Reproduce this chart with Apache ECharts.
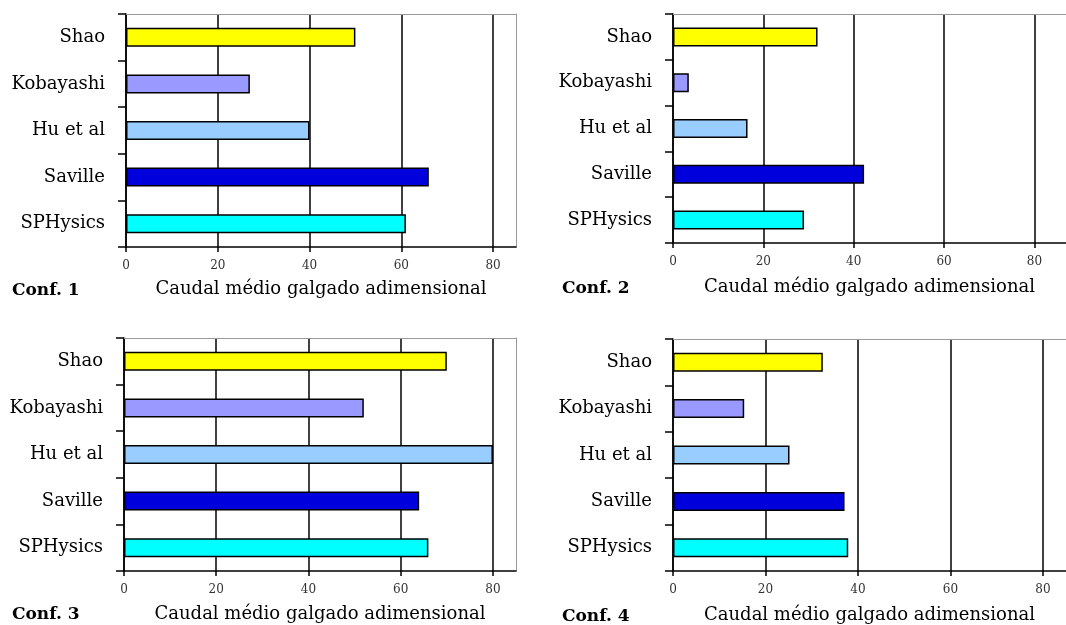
<!DOCTYPE html>
<html>
<head>
<meta charset="utf-8">
<script src="https://cdn.jsdelivr.net/npm/echarts@6/dist/echarts.min.js"></script>
<style>
html,body{margin:0;padding:0;background:#fff;}
#c{width:1066px;height:625px;}
</style>
</head>
<body>
<div id="c"></div>
<script>
// ---- data ----
const categories = ['Shao', 'Kobayashi', 'Hu et al', 'Saville', 'SPHysics'];
const conf1 = [50, 27, 40, 66, 61];
const conf2 = [32, 3.5, 16.5, 42.3, 29];
const conf3 = [70, 52, 80, 64, 66];
const conf4 = [32.4, 15.4, 25.2, 37.1, 37.9];
const xTicks = [0, 20, 40, 60, 80];
const panelTitles = ['Conf. 1', 'Conf. 2', 'Conf. 3', 'Conf. 4'];
const axisTitle = 'Caudal médio galgado adimensional';

// ---- style ----
const barColors = ['#FFFF00', '#9999FF', '#99CCFF', '#0000DD', '#00FFFF'];
const panelData = [conf1, conf2, conf3, conf4];
const grids = [
  {left: 126, top: 14, width: 390, height: 233},
  {left: 673, top: 14, width: 401, height: 229},
  {left: 124, top: 338, width: 392, height: 233},
  {left: 673, top: 339, width: 397, height: 233}
];
const xMax = [85, 87, 85, 85];
const showRightBorder = [true, false, true, false];
const nameGaps = [33, 35, 34, 35];
const titlePos = [[12, 282], [562, 280], [12, 606], [562, 608]];

const serif = '"DejaVu Serif", "Liberation Serif", serif';

const mainX = grids.map((g, i) => ({
  type: 'value',
  gridIndex: i,
  position: 'bottom',
  min: xTicks[0],
  max: xMax[i],
  interval: xTicks[1] - xTicks[0],
  axisLine: {show: true, lineStyle: {color: '#000', width: 1.5}},
  axisTick: {show: true, length: 5, customValues: xTicks, lineStyle: {color: '#000', width: 1.5}},
  axisLabel: {
    color: '#333', fontFamily: serif, fontSize: 12, margin: 13,
    customValues: xTicks,
    formatter: v => (xTicks.indexOf(v) >= 0 ? String(v) : '')
  },
  splitLine: {show: true, lineStyle: {color: '#111', width: 1.6}},
  name: axisTitle,
  nameLocation: 'middle',
  nameGap: nameGaps[i],
  nameTextStyle: {color: '#000', fontFamily: serif, fontSize: 18}
}));
// top frame lines
const topX = grids.map((g, i) => ({
  type: 'value',
  gridIndex: i,
  position: 'top',
  min: xTicks[0],
  max: xMax[i],
  axisLine: {show: true, onZero: false, lineStyle: {color: '#999', width: 1}},
  axisTick: {show: false},
  axisLabel: {show: false},
  splitLine: {show: false}
}));
const mainY = grids.map((g, i) => ({
  type: 'category',
  gridIndex: i,
  data: categories,
  inverse: true,
  position: 'left',
  axisLine: {show: true, lineStyle: {color: '#000', width: 1.5}},
  axisTick: {show: true, length: 8, lineStyle: {color: '#000', width: 1.5}},
  axisLabel: {color: '#000', fontFamily: serif, fontSize: 18, margin: 21, padding: [5, 0, 0, 0]},
  splitLine: {show: false}
}));
// right frame lines
const rightY = grids.map((g, i) => ({
  type: 'category',
  gridIndex: i,
  data: categories,
  inverse: true,
  position: 'right',
  show: showRightBorder[i],
  axisLine: {show: showRightBorder[i], onZero: false, lineStyle: {color: '#999', width: 1}},
  axisTick: {show: false},
  axisLabel: {show: false},
  splitLine: {show: false}
}));

const option = {
  animation: false,
  backgroundColor: '#fff',
  grid: grids.map(g => Object.assign({show: false}, g)),
  xAxis: mainX.concat(topX),
  yAxis: mainY.concat(rightY),
  graphic: panelTitles.map((t, i) => ({
    type: 'text',
    left: titlePos[i][0],
    top: titlePos[i][1],
    style: {text: t, font: 'bold 17px ' + serif, fill: '#000'}
  })),
  series: panelData.map((d, i) => ({
    type: 'bar',
    xAxisIndex: i,
    yAxisIndex: i,
    barWidth: 19,
    data: d.map((v, j) => ({
      value: v,
      itemStyle: {color: barColors[j], borderColor: '#000', borderWidth: 1.5}
    }))
  }))
};

const chart = echarts.init(document.getElementById('c'), null, {renderer: 'canvas'});
chart.setOption(option);
</script>
</body>
</html>
